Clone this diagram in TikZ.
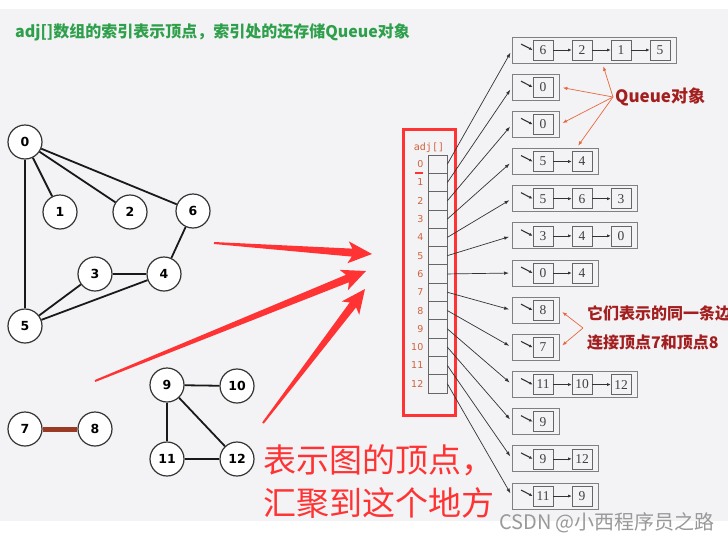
\documentclass[tikz,border=0pt]{standalone}
\usepackage{fontspec}
\usepackage{xcolor}
\usepackage{tikz}
\usetikzlibrary{arrows.meta,positioning,calc}
\newfontfamily\cjk{Noto Sans CJK SC}
\newfontfamily\gfont{DejaVu Sans}
\newfontfamily\monofont{DejaVu Sans Mono}
\newfontfamily\listfont{Liberation Serif}
\definecolor{panelgray}{HTML}{F3F3F5}
\definecolor{titlegreen}{HTML}{2E9F4B}
\definecolor{idxorange}{HTML}{D0613C}
\definecolor{framered}{HTML}{FF3333}
\definecolor{noteRed}{HTML}{A31F1F}
\definecolor{hintorange}{HTML}{E8683F}
\definecolor{edgebrown}{HTML}{9A3A24}

\begin{document}
\begin{tikzpicture}[
  x=1pt, y=-1pt,
  vertex/.style={
    circle,
    draw=black!80,
    line width=1.2pt,
    fill=white,
    minimum size=34pt,
    inner sep=0pt,
    font=\gfont\bfseries\fontsize{12.5}{12.5}\selectfont
  },
  gedge/.style={line width=1.8pt, draw=black!90},
  slot/.style={
    rectangle,
    draw=black!60,
    line width=0.7pt,
    minimum width=19pt,
    minimum height=18.3pt,
    inner sep=0pt
  },
  idx/.style={text=idxorange, inner sep=0pt, font=\gfont\fontsize{9.5}{9.5}\selectfont},
  item/.style={
    rectangle,
    draw=black!60,
    line width=0.7pt,
    minimum size=20pt,
    inner sep=0pt,
    text=black!75,
    font=\listfont\fontsize{13.5}{13.5}\selectfont
  },
  qbox/.style={rectangle, draw=black!50, line width=0.9pt, minimum height=26pt, anchor=west},
  link/.style={-{Latex[length=3.5pt,width=3pt]}, line width=0.6pt, draw=black!80},
  ptr/.style={-{Latex[length=5pt,width=3.5pt]}, line width=0.7pt, draw=black!80, shorten >=3pt},
  hint/.style={-{Latex[length=4.5pt,width=3.5pt]}, line width=0.7pt, draw=hintorange, shorten >=3pt},
  note/.style={text=noteRed, inner sep=2pt, anchor=west, font=\cjk\bfseries\fontsize{16}{16}\selectfont},
  bigred/.style={fill=framered}
]

% background
\fill[white] (0,0) rectangle (728,541);
\fill[panelgray] (0,9) rectangle (728,521);
\useasboundingbox (0,0) rectangle (728,541);

\node[anchor=west, inner sep=0pt, text=titlegreen, font=\cjk\bfseries\fontsize{16}{16}\selectfont] (title) at (15,32) {adj[]数组的索引表示顶点，索引处的还存储Queue对象};

% graph
\node[vertex] (v0) at (25,142) {0};
\node[vertex] (v1) at (60,212) {1};
\node[vertex] (v2) at (130,212) {2};
\node[vertex] (v6) at (193,211) {6};
\node[vertex] (v3) at (95,274) {3};
\node[vertex] (v4) at (164,274) {4};
\node[vertex] (v5) at (25,326) {5};
\node[vertex] (v7) at (25,429) {7};
\node[vertex] (v8) at (95,429) {8};
\node[vertex] (v9) at (167,385) {9};
\node[vertex] (v10) at (237,386) {10};
\node[vertex] (v11) at (167,459) {11};
\node[vertex] (v12) at (237,459) {12};

\draw[gedge] (v0) -- (v1);
\draw[gedge] (v0) -- (v2);
\draw[gedge] (v0) -- (v6);
\draw[gedge] (v0) -- (v5);
\draw[gedge] (v6) -- (v4);
\draw[gedge] (v3) -- (v4);
\draw[gedge] (v3) -- (v5);
\draw[gedge] (v4) -- (v5);
\draw[gedge] (v9) -- (v10);
\draw[gedge] (v9) -- (v11);
\draw[gedge] (v9) -- (v12);
\draw[gedge] (v11) -- (v12);
\draw[line width=5pt, draw=edgebrown] (v7) -- (v8);

% adj[] array
\draw[framered, line width=3pt] (403,129) rectangle (455,415);
\node[text=idxorange, inner sep=0pt, font=\monofont\fontsize{10}{10}\selectfont] (adjname) at (429,148) {adj[]};
\foreach \i in {0,...,12} {
  \node[slot] (adj\i) at (437.5,164.15+18.3*\i) {};
  \node[idx, anchor=east] (idx\i) at (423.5,164.15+18.3*\i) {\i};
}
\draw[framered, line width=2.5pt] (415,173) -- (423,173);

% queues
\foreach \r/\n/\vals in {0/4/{6,2,1,5}, 1/1/{0}, 2/1/{0}, 3/2/{5,4}, 4/3/{5,6,3},
    5/3/{3,4,0}, 6/2/{0,4}, 7/1/{8}, 8/1/{7}, 9/3/{11,10,12}, 10/1/{9},
    11/2/{9,12}, 12/2/{11,9}} {
  \node[qbox, minimum width={39*\n+8}] (list\r) at (512,50+37.17*\r) {};
  \foreach \v [count=\k, remember=\k as \p (initially 0)] in \vals {
    \node[item] (q\r-\k) at (543+39*\k-39,50+37.17*\r) {\v};
    \ifnum\p>0 \draw[link] (q\r-\p) -- (q\r-\k); \fi
  }
  \draw[link, line width=1.1pt] ([shift={(9,-6)}]list\r.west) -- (q\r-1.west);
  \draw[ptr] (adj\r.east) -- (list\r.west);
}

% notes
\node[note, font=\cjk\bfseries\fontsize{17}{17}\selectfont] (queuetxt) at (613,97) {Queue对象};
\draw[hint] (queuetxt.west) -- ([xshift=8pt]list0.south);
\draw[hint] (queuetxt.west) -- (list1.east);
\draw[hint] (queuetxt.west) -- (list2.east);
\draw[hint] (queuetxt.west) -- ([xshift=21pt]list3.north);

\node[note] (edgetxt1) at (585,313) {它们表示的同一条边};
\node[note] (edgetxt2) at (585,343) {连接顶点7和顶点8};
\coordinate (fork) at (583,328);
\draw[hint] (fork) -- (list7.east);
\draw[hint] (fork) -- (list8.east);

% big arrows
\coordinate (s1) at (214,243); \coordinate (t1) at (372,254);
\coordinate (s2) at (95,381);  \coordinate (t2) at (366,271);
\coordinate (s3) at (263,423); \coordinate (t3) at (365,289);
\foreach \i in {1,2,3}
  \fill[bigred] ($(s\i)!1pt!90:(t\i)$) -- ($(t\i)!20pt!(s\i)!4pt!-90:(s\i)$)
    -- ($(t\i)!24pt!(s\i)!11pt!-90:(s\i)$) -- (t\i)
    -- ($(t\i)!24pt!(s\i)!11pt!90:(s\i)$) -- ($(t\i)!20pt!(s\i)!4pt!90:(s\i)$)
    -- ($(s\i)!1pt!-90:(t\i)$) -- cycle;

\node[anchor=west, inner sep=0pt, text=framered, font=\cjk\fontsize{33}{33}\selectfont] (says1) at (263,460) {表示图的顶点，};
\node[anchor=west, inner sep=0pt, text=framered, font=\cjk\fontsize{33}{33}\selectfont] (says2) at (263,503) {汇聚到这个地方};

\node[text=black!40, inner sep=0pt, font=\cjk\fontsize{20}{20}\selectfont] (csdn) at (607,523) {CSDN @小西程序员之路};

\end{tikzpicture}
\end{document}
